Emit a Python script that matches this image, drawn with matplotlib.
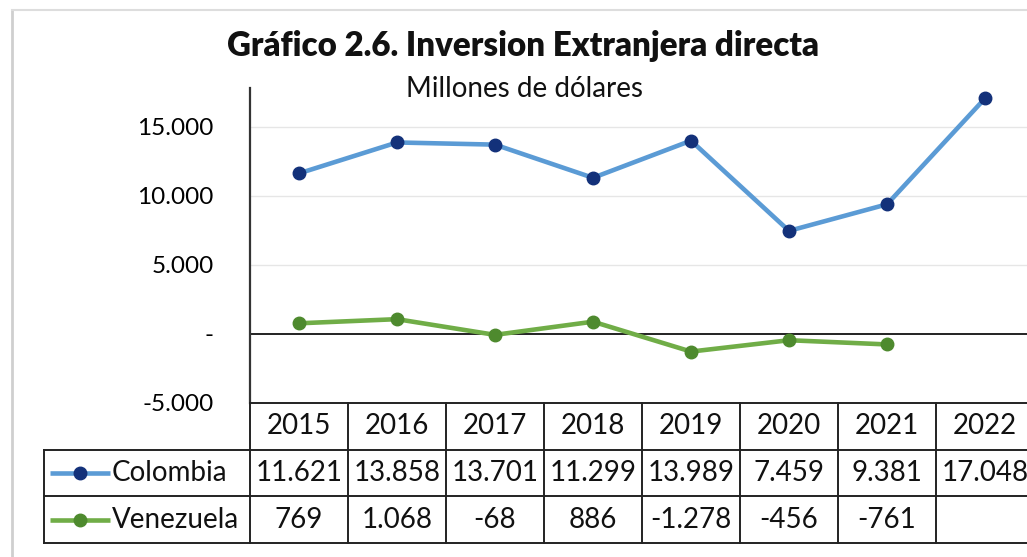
import numpy as np
import matplotlib
matplotlib.use("Agg")
import matplotlib.pyplot as plt
from matplotlib.lines import Line2D

plt.rcParams['font.family'] = ['Lato', 'DejaVu Sans']

years = ['2015', '2016', '2017', '2018', '2019', '2020', '2021', '2022']
colombia = [11621, 13858, 13701, 11299, 13989, 7459, 9381, 17048]
venezuela = [769, 1068, -68, 886, -1278, -456, -761, np.nan]
series_names = ['Colombia', 'Venezuela']
yticks = [-5000, 0, 5000, 10000, 15000]

line_colors = ['#5B9BD5', '#70AD47']
marker_colors = ['#13317A', '#4E8A2E']


def fmt(v):
    if v is None or (isinstance(v, float) and np.isnan(v)):
        return ''
    if v == 0:
        return '-'
    return f"{v:,.0f}".replace(',', '.')


W, H = 1027, 557
fig = plt.figure(figsize=(W / 100, H / 100), dpi=100)

# plot area (pixel geometry from the reference)
x_left, x_right = 250, 1034
y_top, y_bot = 88, 403
ax = fig.add_axes([x_left / W, 1 - y_bot / H, (x_right - x_left) / W, (y_bot - y_top) / H])
x = np.arange(len(years))
ax.set_xlim(-0.5, len(years) - 0.5)
ax.set_ylim(-5000, 17800)
ax.set_yticks(yticks)
ax.set_yticklabels([fmt(t) for t in yticks], fontsize=17.5)
ax.tick_params(axis='y', length=0, pad=26)
ax.set_xticks([])
for s in ['top', 'right', 'bottom']:
    ax.spines[s].set_visible(False)
ax.spines['left'].set_color('#333333')
ax.spines['left'].set_linewidth(1.6)
for t in [5000, 10000, 15000]:
    ax.axhline(t, color='#E6E6E6', lw=1.0, zorder=0)
ax.axhline(0, color='#222222', lw=1.4, zorder=1)

for vals, lc, mc in zip([colombia, venezuela], line_colors, marker_colors):
    ax.plot(x, vals, color=lc, lw=3.3, marker='o', markersize=9,
            markerfacecolor=mc, markeredgecolor=mc, zorder=3, clip_on=False)

# data table
t_left = 44
t_bot = 543
tax = fig.add_axes([t_left / W, 1 - t_bot / H, (x_right - t_left) / W, (t_bot - y_bot) / H])
tax.set_xlim(-0.5 - (x_left - t_left) / 98, len(years) - 0.5)
tax.set_ylim(0, 3)
tax.axis('off')
lab_x0 = tax.get_xlim()[0]
lc_kw = dict(color='#222222', lw=1.4, clip_on=False)

# horizontal lines
tax.plot([-0.5, len(years) - 0.5], [3, 3], **lc_kw)
for yy in [0, 1, 2]:
    tax.plot([lab_x0, len(years) - 0.5], [yy, yy], **lc_kw)
# vertical lines
tax.plot([lab_x0, lab_x0], [0, 2], **lc_kw)
for i in range(len(years)):
    tax.plot([i - 0.5, i - 0.5], [0, 3], **lc_kw)
tax.plot([len(years) - 0.5] * 2, [0, 3], **lc_kw)

for i, yr in enumerate(years):
    tax.text(i, 2.5, yr, ha='center', va='center', fontsize=20, color='#111111')

for r, (name, vals, lc, mc) in enumerate(zip(series_names, [colombia, venezuela], line_colors, marker_colors)):
    yc = 1.5 - r
    s0 = lab_x0 + 6 / 98
    s1 = lab_x0 + 66 / 98
    tax.plot([s0, s1], [yc, yc], color=lc, lw=3.3, solid_capstyle='butt')
    tax.plot([(s0 + s1) / 2], [yc], marker='o', markersize=9, color=mc)
    tax.text(lab_x0 + 68 / 98, yc, name, ha='left', va='center', fontsize=20, color='#111111')
    for i, v in enumerate(vals):
        tax.text(i, yc, fmt(v), ha='center', va='center', fontsize=20, color='#111111')

# titles
fig.text(523 / W, 1 - 46 / H, 'Gráfico 2.6. Inversion Extranjera directa', ha='center', va='center',
         fontsize=23.8, fontweight='heavy', color='#111111')
fig.text(524 / W, 1 - 89 / H, 'Millones de dólares', ha='center', va='center', fontsize=20, color='#111111')

# outer frame of the chart area
fig.add_artist(Line2D([12 / W, 12 / W], [0, 1 - 10 / H], transform=fig.transFigure, color='#CFCFCF', lw=2))
fig.add_artist(Line2D([12 / W, 1], [1 - 10 / H, 1 - 10 / H], transform=fig.transFigure, color='#DDDDDD', lw=1.5))

fig.savefig('out.png', dpi=100)
